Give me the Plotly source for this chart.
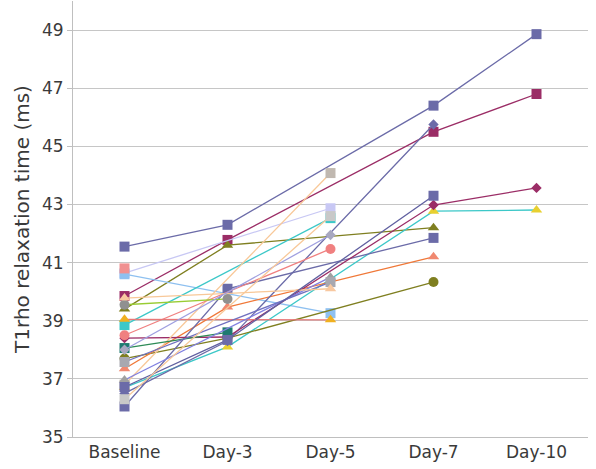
import plotly.graph_objects as go

categories = ["Baseline", "Day-3", "Day-5", "Day-7", "Day-10"]

# each series: values per category (None = no measurement)
s01 = [41.55, 42.3, None, 46.4, 48.86]
s02 = [39.85, 41.78, None, 45.5, 46.8]
s03 = [39.4, 41.6, None, 42.2, None]
s04 = [40.64, None, 42.87, None, None]
s05 = [40.6, None, 39.26, None, None]
s06 = [38.85, None, 42.53, None, None]
s07 = [36.7, 38.1, None, 42.77, 42.81]
s08 = [37.7, 38.4, None, 40.33, None]
s09 = [37.35, 39.47, None, 41.2, None]
s10 = [36.05, 40.1, None, 41.85, None]
s11 = [36.5, 38.3, None, 45.75, None]
s12 = [38.4, 38.44, None, 42.98, 43.57]
s13 = [36.8, None, 44.08, None, None]
s14 = [38.5, None, 41.47, None, None]
s15 = [39.05, None, 39.03, None, None]
s16 = [39.55, 39.75, None, None, None]
s17 = [38.06, 38.6, None, None, None]
s18 = [36.96, None, 40.5, None, None]
s19 = [37.58, None, 40.33, None, None]
s20 = [39.78, None, 40.1, None, None]
s21 = [36.72, 38.34, None, 43.3, None]
s22 = [38.0, None, 41.95, None, None]
s23 = [40.8, None, None, None, None]
s24 = [36.3, None, 42.6, None, None]

series = [
    (s01, "#6B6BA8", "square", "#6B6BA8"),
    (s02, "#9B2D66", "square", "#9B2D66"),
    (s03, "#7F7F20", "triangle-up", "#7F7F20"),
    (s04, "#C8C8F4", "square", "#C8C8F4"),
    (s05, "#8EC0F0", "square", "#8EC0F0"),
    (s06, "#3CC8C8", "square", "#3CC8C8"),
    (s07, "#3CC8C8", "triangle-up", "#E8D030"),
    (s08, "#7F7F20", "circle", "#7F7F20"),
    (s09, "#F07838", "triangle-up", "#F08870"),
    (s10, "#6B6BA8", "square", "#6B6BA8"),
    (s11, "#6B6BA8", "diamond", "#6B6BA8"),
    (s12, "#9B2D66", "diamond", "#9B2D66"),
    (s13, "#F8C898", "square", "#C0B8B0"),
    (s14, "#F08080", "circle", "#F08080"),
    (s15, "#E87878", "triangle-up", "#F0B020"),
    (s16, "#99CC33", "circle", "#909090"),
    (s17, "#2E8B57", "square", "#1E7A70"),
    (s18, "#8080E0", "triangle-up", "#A0A0A0"),
    (s19, "#7070C0", "square", "#A8A8B0"),
    (s20, "#F8C898", "triangle-up", "#F8C8A0"),
    (s21, "#6060A0", "square", "#6B6BA8"),
    (s22, "#A0A0E0", "diamond", "#A8A8C0"),
    (s23, "#F09090", "square", "#F09090"),
    (s24, "#F8C898", "square", "#C8C8C8"),
]

fig = go.Figure()
for vals, lc, sym, mc in series:
    sz = 8 if sym == "diamond" else 10
    fig.add_trace(go.Scatter(
        x=categories, y=vals, mode="lines+markers", connectgaps=True,
        line=dict(color=lc, width=1.3),
        marker=dict(symbol=sym, size=sz, color=mc, line=dict(width=0)),
        showlegend=False,
    ))

fig.update_layout(
    width=596, height=469,
    margin=dict(l=73, r=8, t=1, b=32),
    paper_bgcolor="white", plot_bgcolor="white",
    font=dict(family="DejaVu Sans, Arial, sans-serif", size=17, color="#3A3A3A"),
)
fig.update_xaxes(
    type="category", range=[-0.5, 4.5],
    showgrid=False, showline=True, linecolor="#BFBFBF", linewidth=1,
    ticks="", tickfont=dict(size=17, color="#3A3A3A"), automargin=False,
)
fig.update_yaxes(
    range=[35, 50], tick0=35, dtick=2,
    showgrid=True, gridcolor="#C6C6C6", gridwidth=1,
    showline=True, linecolor="#BFBFBF", linewidth=1,
    ticks="outside", ticklen=5, tickcolor="#BFBFBF",
    tickfont=dict(size=17, color="#3A3A3A"), automargin=False,
    title=dict(text="T1rho relaxation time (ms)", font=dict(size=20, color="#3A3A3A"), standoff=6),
    zeroline=False,
)

fig.write_html("out.html", config={"displayModeBar": False},
               post_script="document.body.style.margin='0px';")
